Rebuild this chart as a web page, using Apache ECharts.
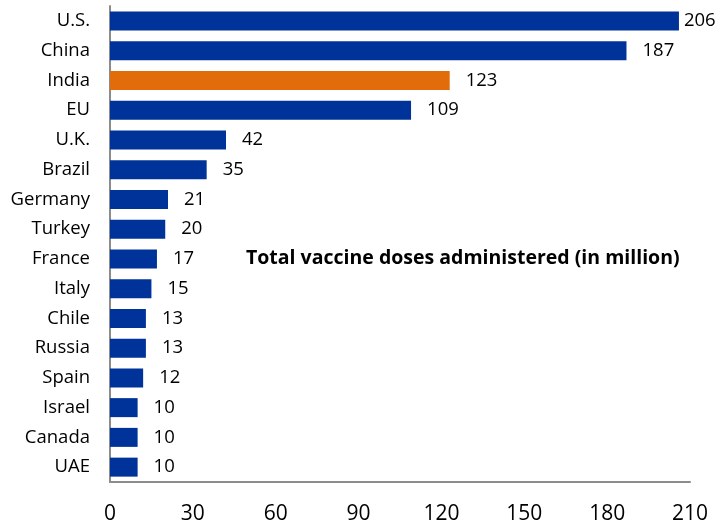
<!DOCTYPE html>
<html>
<head>
<meta charset="utf-8">
<script src="https://cdn.jsdelivr.net/npm/echarts@6/dist/echarts.min.js"></script>
<style>
  html, body { margin: 0; padding: 0; background: #fff; }
  #chart { width: 715px; height: 525px; }
</style>
</head>
<body>
<div id="chart"></div>
<script>
const countries = ['U.S.', 'China', 'India', 'EU', 'U.K.', 'Brazil', 'Germany', 'Turkey',
  'France', 'Italy', 'Chile', 'Russia', 'Spain', 'Israel', 'Canada', 'UAE']
const doses = [206, 187, 123, 109, 42, 35, 21, 20, 17, 15, 13, 13, 12, 10, 10, 10]
const highlight = 'India'

const blue = '#003399'
const orange = '#e36c0a'
const font = '"Open Sans", sans-serif'

const myChart = echarts.init(document.getElementById('chart'))

const option = {
  animation: false,
  grid: { left: 110, right: 25, top: 6, bottom: 43 },
  title: {
    text: 'Total vaccine doses administered (in million)',
    left: 241,
    top: 243,
    textStyle: { fontFamily: font, fontSize: 19.5, fontWeight: 'bold', color: '#000' }
  },
  xAxis: {
    type: 'value',
    min: 0,
    max: 210,
    interval: 30,
    axisLine: { show: true, lineStyle: { color: '#8c8c8c', width: 2 } },
    axisTick: { show: false },
    splitLine: { show: false },
    axisLabel: { color: '#000', fontFamily: font, fontSize: 21, margin: 22 }
  },
  yAxis: {
    type: 'category',
    inverse: true,
    data: countries,
    axisLine: { show: true, lineStyle: { color: '#8c8c8c', width: 2 } },
    axisTick: { show: false },
    axisLabel: { color: '#000', fontFamily: font, fontSize: 18.5, margin: 20 }
  },
  series: [
    {
      type: 'bar',
      data: doses.map((v, i) => ({
        value: v,
        itemStyle: { color: countries[i] === highlight ? orange : blue },
        label: i === 0 ? { distance: 5 } : undefined
      })),
      barWidth: 19,
      label: {
        show: true,
        position: 'right',
        distance: 16,
        color: '#000',
        fontFamily: font,
        fontSize: 18.5
      }
    }
  ]
}

myChart.setOption(option)
</script>
</body>
</html>
